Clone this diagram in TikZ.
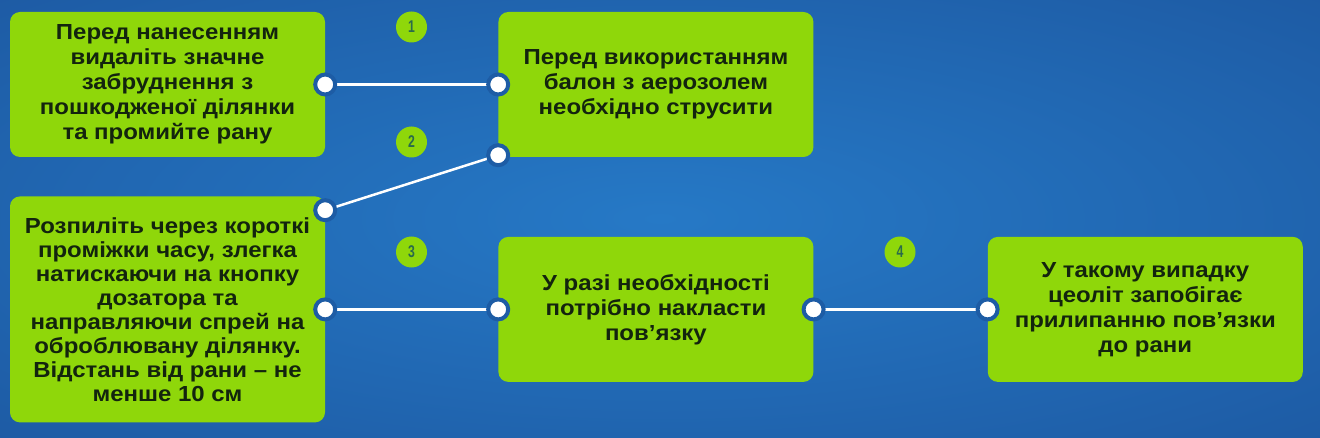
\documentclass[tikz,border=0pt]{standalone}
\usepackage{fontspec}
\setmainfont[FakeStretch=1.1]{Liberation Sans}
\newfontfamily\badgefont[FakeStretch=0.72]{Liberation Sans}
\usetikzlibrary{positioning}

\definecolor{bgin}{HTML}{2679C6}
\definecolor{bgout}{HTML}{1A4F97}
\definecolor{cardgreen}{HTML}{8FD70A}
\definecolor{cardtext}{HTML}{13240E}
\definecolor{ringblue}{HTML}{1D5CA5}
\definecolor{badgetext}{HTML}{2B6B4A}
\pgfdeclareradialshading{bgshade}{\pgfpoint{0bp}{0bp}}{color(0bp)=(bgin); color(50bp)=(bgout)}

\begin{document}
\begin{tikzpicture}[x=1pt, y=1pt, node distance=39pt and 173pt,
                    card/.style ={rectangle, rounded corners=10pt, fill=cardgreen, text=cardtext,
                                  minimum width=315pt, minimum height=145pt, inner sep=4pt, align=center,
                                  font=\bfseries\fontsize{21.8}{25}\selectfont},
                    badge/.style={circle, fill=cardgreen, minimum size=31pt, inner sep=0pt,
                                  text=badgetext, font=\badgefont\bfseries\fontsize{17}{17}\selectfont},
                    link/.style ={draw=white, line width=2.5pt},
                    dot/.style  ={circle, fill=white, draw=ringblue, line width=4pt,
                                  minimum size=20pt, inner sep=0pt}]

% background
\shade[shading=bgshade] (0,0) rectangle (1320,437);
\useasboundingbox (0,0) rectangle (1320,437);

% top row
\node[card] (prep) at (167.5,352.5) {Перед нанесенням\\видаліть значне\\забруднення з\\пошкодженої ділянки\\та промийте рану};
\node[card] (shake) [right=of prep] {Перед використанням\\балон з аерозолем\\необхідно струсити};

% bottom row
\node[card, minimum height=226pt, font=\bfseries\fontsize{21.8}{24}\selectfont] (spray) [below=of prep] {Розпиліть через короткі\\проміжки часу, злегка\\натискаючи на кнопку\\дозатора та\\направляючи спрей на\\оброблювану ділянку.\\Відстань від рани -- не\\менше 10 см};
\node[card] (bandage) [right=of spray] {У разі необхідності\\потрібно накласти\\пов’язку};
\node[card] (zeolite) [right=174pt of bandage] {У такому випадку\\цеоліт запобігає\\прилипанню пов’язки\\до рани};

% step numbers
\node[badge] (n1) at (411.5,410) {1};
\node[badge] (n2) at (411.5,295) {2};
\node[badge] (n3) at (411.5,185) {3};
\node[badge] (n4) at (900,185) {4};

% links
\draw[link] (prep.east) node[dot] (d1a) {} -- (shake.west) node[dot] (d1b) {};
\draw[link] ([yshift=2pt]shake.south west) node[dot] (d2a) {} -- ([yshift=-14pt]spray.north east) node[dot] (d2b) {};
\draw[link] (spray.east) node[dot] (d3a) {} -- (bandage.west) node[dot] (d3b) {};
\draw[link] (bandage.east) node[dot] (d4a) {} -- (zeolite.west) node[dot] (d4b) {};

\end{tikzpicture}
\end{document}
